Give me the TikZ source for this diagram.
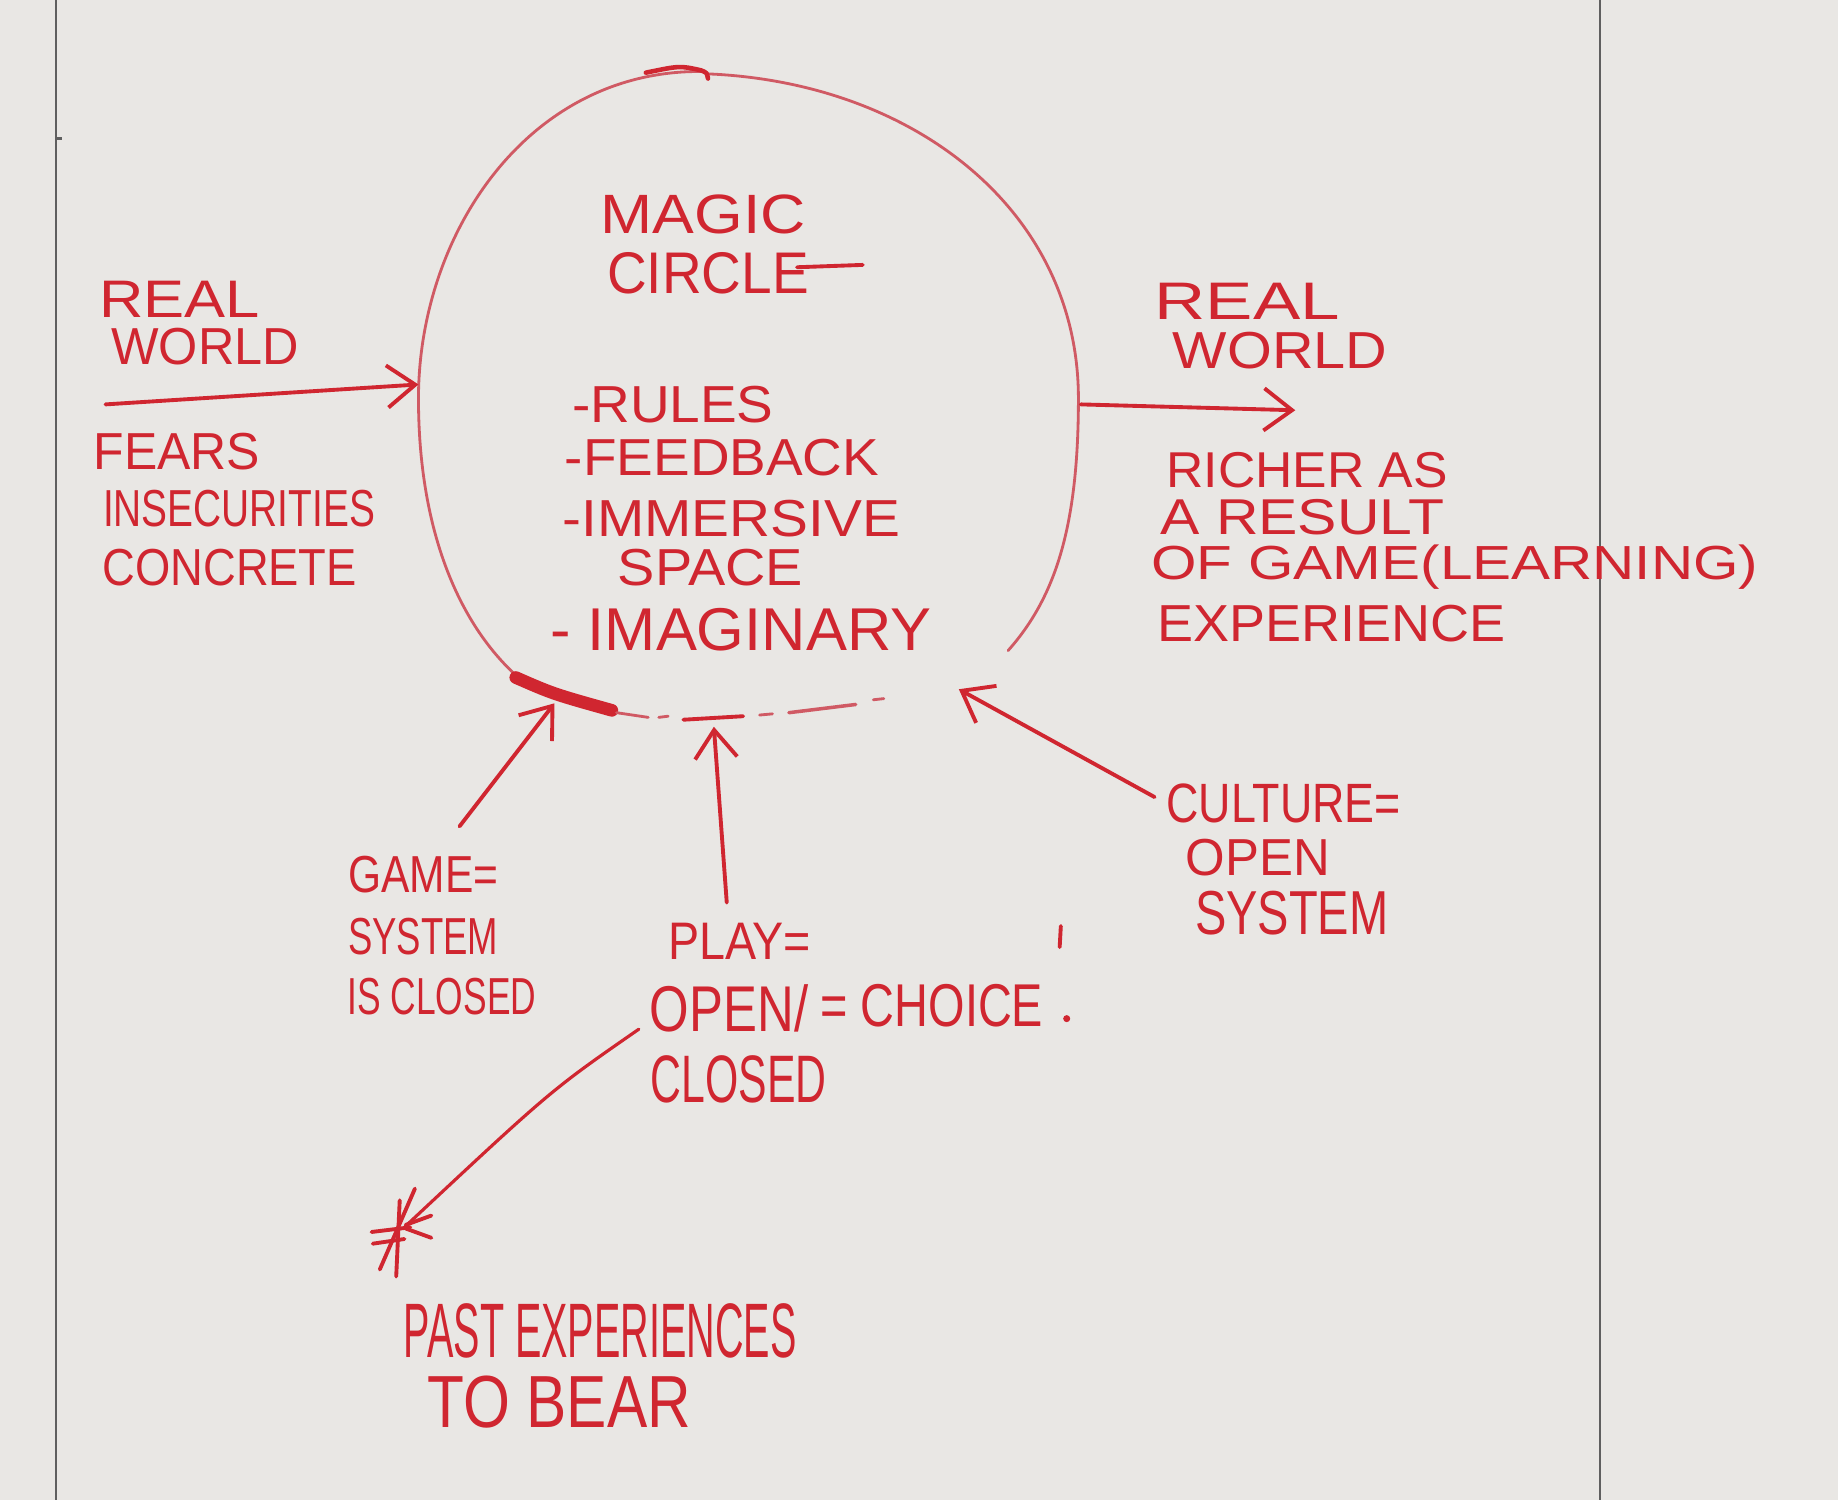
\documentclass[tikz,border=0pt]{standalone}
\usepackage{fontspec}
\setmainfont{Liberation Sans}
\usepackage{graphicx}
\usetikzlibrary{arrows.meta}
\newlength\un \setlength\un{0.011722cm}
\newcommand{\hw}[3][31]{\resizebox{#2\un}{#1\un}{#3}}
\definecolor{ink}{RGB}{208,38,48}
\definecolor{inkl}{RGB}{208,90,100}
\definecolor{board}{RGB}{233,231,228}
\definecolor{edge}{RGB}{95,95,95}
\begin{document}
\begin{tikzpicture}[x=0.011722cm, y=-0.011722cm,
  txt/.style={text=ink, inner sep=0pt, anchor=center},
  pen/.style={draw=ink, line width=1.1pt, line cap=round, line join=round},
  arr/.style={pen, -{Straight Barb[length=8pt,width=12pt,line width=1.1pt]}}]
\fill[board] (0,0) rectangle (1568,1280);
\useasboundingbox (0,0) rectangle (1568,1280);
% board edges
\draw[edge, line width=0.6pt] (48,0) -- (48,1280);
\draw[edge, line width=0.6pt] (1365,0) -- (1365,1280);
\draw[edge, line width=0.8pt] (48,118) -- (53,118);
% magic circle
\draw[inkl, line width=0.8pt, line cap=round] (860,555) .. controls (900,510) and (920,450) .. (920,340)
  .. controls (920,180) and (780,70) .. (603,63);
\draw[inkl, line width=0.8pt, line cap=round] (598,61) .. controls (450,60) and (357,200) .. (357,340)
  .. controls (357,450) and (390,530) .. (440,576);
\draw[ink, line width=1.3pt, line cap=round] (551,62) .. controls (580,56) .. (598,60) .. controls (603,62) .. (604,67);
\draw[ink, line width=3.6pt, line cap=round] (440,578) .. controls (472,592) .. (522,606);
\draw[inkl, line width=0.8pt, line cap=round] (526,608) -- (553,612);
\draw[inkl, line width=0.8pt, line cap=round] (562,612) -- (570,611);
\draw[ink, line width=1.1pt, line cap=round] (583,614) -- (634,611);
\draw[inkl, line width=0.8pt, line cap=round] (648,610) -- (659,609);
\draw[inkl, line width=1pt, line cap=round] (673,608) -- (730,601);
\draw[inkl, line width=0.8pt, line cap=round] (745,597) -- (754,596);
% texts inside circle
\node[txt] (magic) at (600,183) {\hw[33]{175}{MAGIC}};
\node[txt] (circ) at (604,233) {\hw[35]{172}{CIRCLE}};
\coordinate (ce) at (680,228);
\coordinate (cf) at (736,226);
\draw[pen] (ce) -- (cf);
\node[txt] (rules) at (574,345) {\hw{172}{-RULES}};
\node[txt] (feedback) at (616,390) {\hw{268}{-FEEDBACK}};
\node[txt] (immersive) at (624,442) {\hw{288}{-IMMERSIVE}};
\node[txt] (space) at (606,484) {\hw{158}{SPACE}};
\node[txt] (imaginary) at (632,537) {\hw[36]{325}{- IMAGINARY}};
% left side
\node[txt] (realL) at (153,255) {\hw{137}{REAL}};
\node[txt] (worldL) at (175,296) {\hw{160}{WORLD}};
\node[txt] (fears) at (151,385) {\hw{142}{FEARS}};
\node[txt] (insec) at (204,434) {\hw{232}{INSECURITIES}};
\node[txt] (concrete) at (196,484) {\hw{217}{CONCRETE}};
\coordinate (lA) at (90,345);
\coordinate (lB) at (357,328);
\draw[arr] (lA) -- (lB);
% right side
\node[txt] (realR) at (1064,257) {\hw{158}{REAL}};
\node[txt] (worldR) at (1092,299) {\hw{183}{WORLD}};
\coordinate (rA) at (922,345);
\coordinate (rB) at (1105,350);
\draw[arr] (rA) -- (rB);
\node[txt] (richer) at (1115,401) {\hw[30]{240}{RICHER AS}};
\node[txt] (result) at (1111,441) {\hw[30]{242}{A RESULT}};
\node[txt] (ofgame) at (1241,484) {\resizebox*{518\un}{38\un}{OF GAME(LEARNING)}};
\node[txt] (exper) at (1136,532) {\hw{297}{EXPERIENCE}};
% game
\node[txt] (gameeq) at (361,746) {\hw{128}{GAME=}};
\node[txt] (sys1) at (361,799) {\hw{128}{SYSTEM}};
\node[txt] (isclosed) at (377,850) {\hw{161}{IS CLOSED}};
\coordinate (gA) at (392,705);
\coordinate (gB) at (473,600);
\draw[arr] (gA) -- (gB);
% play
\node[txt] (playeq) at (631,803) {\hw{122}{PLAY=}};
\node[txt] (open) at (622,860) {\hw[40]{135}{OPEN/}};
\node[txt] (choice) at (795,858) {\hw[36]{190}{= CHOICE}};
\node[txt] (closed) at (630,921) {\hw[40]{150}{CLOSED}};
\draw[pen] (905,790) -- (904,808);
\fill[ink] (910,869) circle (3);
\coordinate (pA) at (620,770);
\coordinate (pB) at (609,620);
\draw[arr] (pA) -- (pB);
% culture
\node[txt] (culture) at (1095,685) {\hw[33]{200}{CULTURE=}};
\node[txt] (open2) at (1073,732) {\hw{123}{OPEN}};
\node[txt] (sys2) at (1102,779) {\hw[37]{165}{SYSTEM}};
\coordinate (cA) at (985,680);
\coordinate (cB) at (818,588);
\draw[arr] (cA) -- (cB);
% past experiences
\coordinate (eA) at (545,878);
\coordinate (eB) at (346,1046);
\draw[pen, line width=0.9pt] (eA) .. controls (470,930) .. (eB);
\draw[pen] (354,1014) -- (324,1083);
\draw[pen] (341,1024) -- (338,1089);
\draw[pen] (317,1051) -- (350,1047);
\draw[pen] (318,1061) -- (345,1057);
\draw[pen] (346,1048) -- (368,1056);
\draw[pen] (346,1045) -- (368,1037);
\node[txt] (past) at (512,1135) {\hw[46]{335}{PAST EXPERIENCES}};
\node[txt] (tobear) at (477,1196) {\hw[44]{225}{TO BEAR}};
\end{tikzpicture}
\end{document}
